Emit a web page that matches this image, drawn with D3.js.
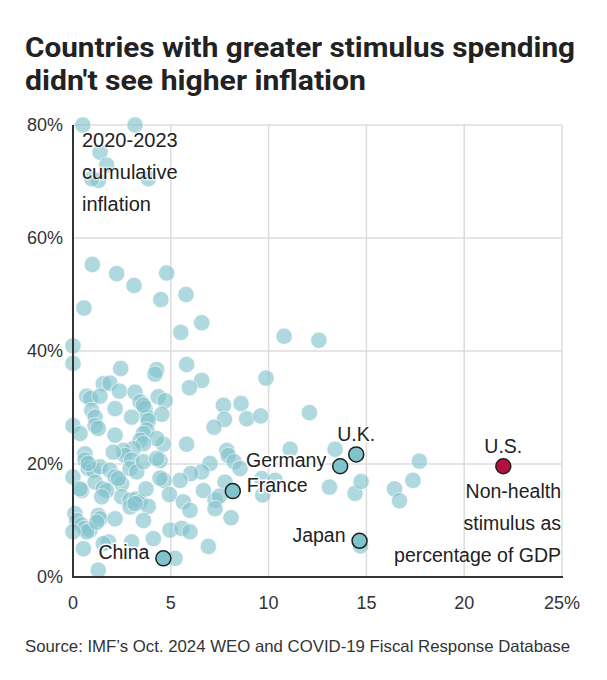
<!DOCTYPE html>
<html>
<head>
<meta charset="utf-8">
<script src="https://cdn.jsdelivr.net/npm/d3@7"></script>
<style>
  html, body { margin: 0; padding: 0; background: #fff; }
  svg { display: block; }
  text { font-family: "Liberation Sans", Arial, sans-serif; }
</style>
</head>
<body>
<svg id="chart" width="607" height="680"></svg>
<script>
// ---- Data ----
const titleLines = ["Countries with greater stimulus spending", "didn't see higher inflation"];
const sourceText = "Source: IMF\u2019s Oct. 2024 WEO and COVID-19 Fiscal Response Database";

const xTicks = [0, 5, 10, 15, 20, 25];
const yTicks = [0, 20, 40, 60, 80];

// Unlabeled countries: non-health stimulus (% of GDP) and 2020-2023 cumulative inflation (%)
const stimulus = [
  0.5, 3.17, 1.38, 1.72, 1.30, 0.96, 3.85,
  0.99, 2.23, 3.12, 4.79, 4.49, 5.78, 0.56, 5.51, 6.58, 10.79, 12.57,
  0, 0, 2.44, 4.28, 4.19, 5.81, 6.58, 5.95, 9.87,
  1.55, 1.89, 0.7, 0.9, 1.38, 2.37, 3.17, 3.43, 4.36, 4.71, 3.68, 0.96, 1.13, 3.0, 3.80, 4.54,
  7.69, 8.59, 7.74, 8.88, 7.21, 9.60, 12.09,
  5.81, 4.62, 7.86, 11.1, 13.4,
  7.94, 8.24, 8.54, 7.0, 6.58, 6.02, 4.45, 5.47, 4.65, 7.77, 9.65, 10.33, 9.70, 6.67, 4.93, 7.26, 7.48, 5.64, 5.98, 7.26, 8.08, 4.96, 5.56, 5.98, 6.92, 5.22,
  13.11, 14.42, 14.73, 16.44, 16.69, 17.38, 17.71, 14.7,
  0, 0.36, 1.13, 1.29, 2.15, 2.15, 3.6, 3.85, 3.77, 3.6, 4.28, 3.43, 3.6, 3.08, 2.57, 2.66, 2.06, 0.61,
  3.0, 2.92, 3.26, 3.6, 4.28, 0.61, 0.78, 1.04, 1.38, 0.78, 0, 1.89, 2.15, 2.49, 2.32, 0.44, 0.36, 1.13,
  1.55, 1.72, 1.47, 2.49, 2.92, 3.22, 3.43, 3.73, 3.85, 4.45, 0.1, 0.19, 0.44, 0.61, 0.87, 0.70, 0,
  1.29, 1.38, 1.21, 2.15, 2.92, 3.17, 3.6, 4.11, 1.81, 1.55, 3.0, 0.53, 1.29
];
const inflation = [
  80, 80, 75.2, 72.9, 70.2, 70.5, 70.5,
  55.3, 53.7, 51.6, 53.8, 49.1, 50.0, 47.6, 43.3, 45.0, 42.6, 41.9,
  40.9, 37.8, 36.9, 36.7, 35.9, 37.6, 34.8, 33.5, 35.2,
  34.2, 34.3, 32.0, 31.6, 32.0, 32.9, 32.7, 31.0, 31.9, 31.2, 29.8, 29.5, 28.3, 28.3, 28.3, 28.8,
  30.4, 30.7, 27.9, 28.0, 26.5, 28.5, 29.1,
  23.5, 23.5, 22.4, 22.6, 22.6,
  21.5, 20.4, 19.2, 20.1, 18.6, 18.3, 20.6, 17.1, 17.1, 16.8, 17.4, 17.1, 14.5, 15.3, 14.6, 13.6, 14.3, 13.3, 11.8, 12.1, 10.5, 8.3, 8.6, 8.0, 5.4, 3.3,
  15.9, 14.8, 16.9, 15.6, 13.5, 17.1, 20.5, 5.5,
  26.8, 25.4, 26.8, 26.3, 29.8, 25.1, 30.4, 27.7, 26.0, 25.4, 24.5, 24.2, 23.6, 22.7, 22.4, 21.5, 22.1, 21.8,
  20.7, 19.2, 18.6, 20.4, 21.0, 20.7, 19.2, 18.9, 19.5, 20.1, 17.7, 18.9, 17.7, 16.5, 17.4, 15.3, 15.6, 16.8,
  15.6, 15.3, 14.2, 14.2, 13.6, 13.8, 13.3, 15.6, 12.5, 17.5, 11.2, 10.0, 9.2, 8.6, 8.3, 8.0, 8.0,
  10.9, 10.3, 9.7, 10.3, 12.4, 13.0, 10.0, 6.8, 6.2, 5.9, 6.2, 5.0, 1.2
];

// Highlighted countries
const hlNames = ["China", "France", "Germany", "U.K.", "Japan", "U.S."];
const hlStimulus = [4.62, 8.17, 13.66, 14.48, 14.65, 22.0];
const hlInflation = [3.3, 15.2, 19.6, 21.7, 6.4, 19.6];
const hlLabelSide = ["left", "right", "left", "top", "left", "top"];

// ---- Chart ----
const svg = d3.select("#chart");
const plot = { left: 73, right: 562, top: 125, bottom: 577 };

const x = d3.scaleLinear().domain([0, 25]).range([plot.left, plot.right]);
const y = d3.scaleLinear().domain([0, 80]).range([plot.bottom, plot.top]);

// Title
svg.append("g").selectAll("text")
  .data(titleLines)
  .join("text")
  .attr("x", 25)
  .attr("y", (d, i) => 57 + i * 33)
  .attr("font-size", 28.5)
  .attr("font-weight", 700)
  .attr("fill", "#222")
  .attr("textLength", (d, i) => i === 0 ? 550 : 341)
  .attr("lengthAdjust", "spacingAndGlyphs")
  .style("font-family", "Roboto, 'Liberation Sans', sans-serif")
  .text(d => d);

// Grid
const grid = svg.append("g").attr("stroke", "#dcdcdc").attr("stroke-width", 1.5);
grid.selectAll("line.v")
  .data(xTicks.filter(d => d > 0))
  .join("line")
  .attr("x1", d => x(d)).attr("x2", d => x(d))
  .attr("y1", plot.top).attr("y2", plot.bottom);
grid.selectAll("line.h")
  .data(yTicks.filter(d => d > 0))
  .join("line")
  .attr("x1", plot.left).attr("x2", plot.right)
  .attr("y1", d => y(d)).attr("y2", d => y(d));

// Points
const pts = stimulus.map((s, i) => ({ s, v: inflation[i] }));
svg.append("g").selectAll("circle")
  .data(pts)
  .join("circle")
  .attr("cx", d => x(d.s))
  .attr("cy", d => y(d.v))
  .attr("r", 8.2)
  .attr("fill", "#84c3cd")
  .attr("fill-opacity", 0.64)
  .attr("stroke", "#ffffff")
  .attr("stroke-opacity", 0.6)
  .attr("stroke-width", 1);

// Axis annotation (y)
const yNote = ["2020-2023", "cumulative", "inflation"];
svg.append("g").selectAll("text")
  .data(yNote)
  .join("text")
  .attr("x", 82)
  .attr("y", (d, i) => 147 + i * 32)
  .attr("font-size", 20)
  .attr("fill", "#222")
  .attr("stroke", "#fff")
  .attr("stroke-opacity", 0.5)
  .attr("stroke-width", 3)
  .attr("paint-order", "stroke")
  .text(d => d);

// Axis lines
svg.append("line")
  .attr("x1", plot.left).attr("x2", plot.left)
  .attr("y1", plot.top).attr("y2", plot.bottom + 1)
  .attr("stroke", "#333").attr("stroke-width", 2);
svg.append("line")
  .attr("x1", plot.left - 1).attr("x2", plot.right + 1)
  .attr("y1", plot.bottom).attr("y2", plot.bottom)
  .attr("stroke", "#333").attr("stroke-width", 2);

// Tick labels
svg.append("g").selectAll("text")
  .data(xTicks)
  .join("text")
  .attr("x", d => x(d))
  .attr("y", 609)
  .attr("text-anchor", "middle")
  .attr("font-size", 18)
  .attr("fill", "#333")
  .text(d => d === 25 ? d + "%" : d);
svg.append("g").selectAll("text")
  .data(yTicks)
  .join("text")
  .attr("x", 63)
  .attr("y", d => y(d))
  .attr("dy", "0.36em")
  .attr("text-anchor", "end")
  .attr("font-size", 18)
  .attr("fill", "#333")
  .text(d => d + "%");

// X annotation
const xNote = ["Non-health", "stimulus as", "percentage of GDP"];
svg.append("g").selectAll("text")
  .data(xNote)
  .join("text")
  .attr("x", 561)
  .attr("y", (d, i) => 498 + i * 32)
  .attr("text-anchor", "end")
  .attr("font-size", 19.5)
  .attr("fill", "#222")
  .text(d => d);

// Highlighted points
const hl = hlNames.map((n, i) => ({ n, s: hlStimulus[i], v: hlInflation[i], side: hlLabelSide[i] }));
svg.append("g").selectAll("circle")
  .data(hl)
  .join("circle")
  .attr("cx", d => x(d.s))
  .attr("cy", d => y(d.v))
  .attr("r", 7.5)
  .attr("fill", d => d.n === "U.S." ? "#b3103f" : "#7fc3cd")
  .attr("stroke", "#1f1f1f")
  .attr("stroke-width", 1.5);

svg.append("g").selectAll("text")
  .data(hl)
  .join("text")
  .attr("x", d => d.side === "left" ? x(d.s) - 14 : d.side === "right" ? x(d.s) + 14 : x(d.s))
  .attr("y", d => d.side === "top" ? y(d.v) - 13 : y(d.v) - 6)
  .attr("dy", d => d.side === "top" ? 0 : "0.36em")
  .attr("text-anchor", d => d.side === "left" ? "end" : d.side === "right" ? "start" : "middle")
  .attr("font-size", 19.5)
  .attr("fill", "#222")
  .attr("stroke", "#fff")
  .attr("stroke-width", 3)
  .attr("paint-order", "stroke")
  .text(d => d.n);

// Source
svg.append("text")
  .attr("x", 25)
  .attr("y", 652)
  .attr("font-size", 16.5)
  .attr("fill", "#333")
  .attr("textLength", 545)
  .attr("lengthAdjust", "spacingAndGlyphs")
  .text(sourceText);
</script>
</body>
</html>
